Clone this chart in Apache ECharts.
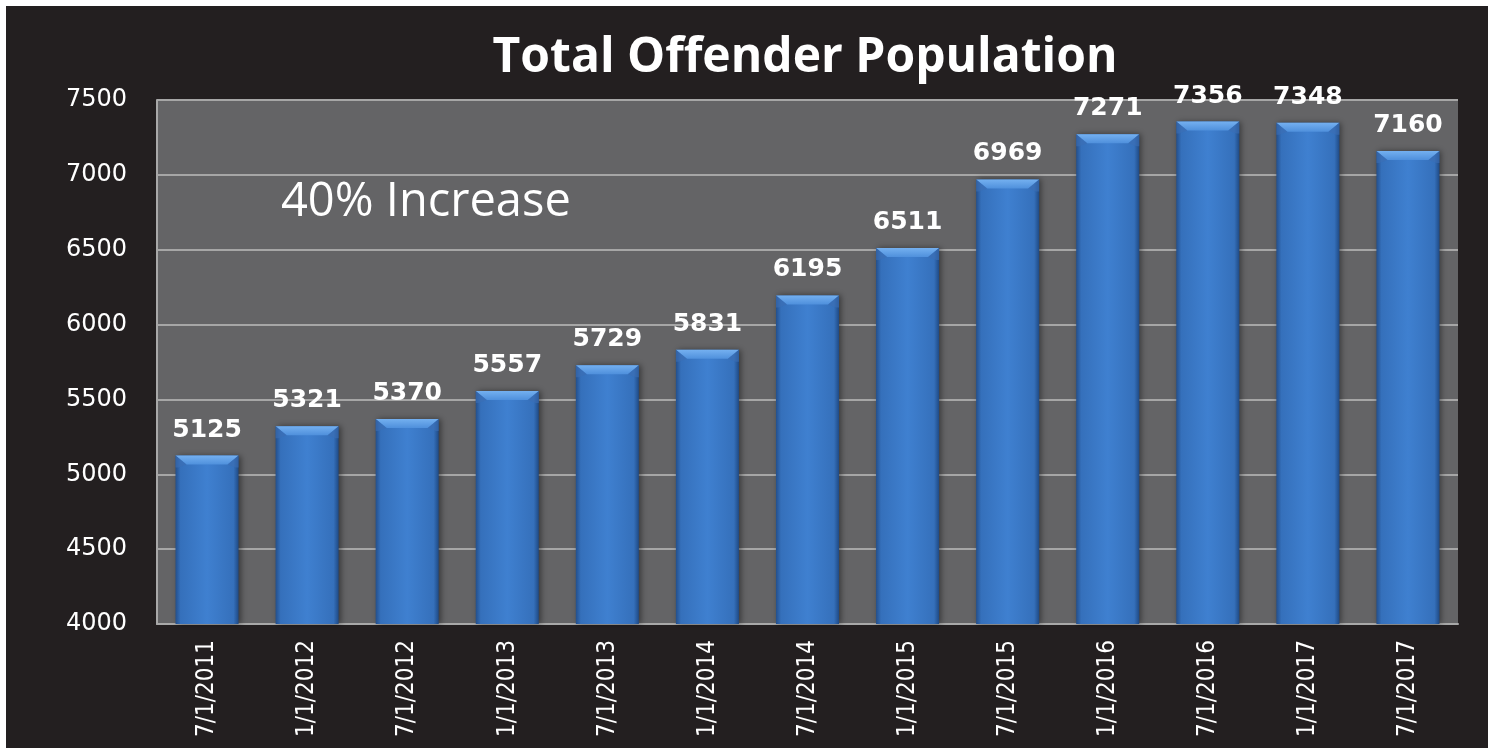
<!DOCTYPE html>
<html>
<head>
<meta charset="utf-8">
<script src="https://cdn.jsdelivr.net/npm/echarts@6/dist/echarts.min.js"></script>
<style>
html,body{margin:0;padding:0;background:#ffffff;width:1494px;height:748px;overflow:hidden;}
#chart{position:absolute;left:6px;top:6px;width:1482px;height:742px;}
</style>
</head>
<body>
<div id="chart"></div>
<script>
const categories = ['7/1/2011','1/1/2012','7/1/2012','1/1/2013','7/1/2013','1/1/2014','7/1/2014','1/1/2015','7/1/2015','1/1/2016','7/1/2016','1/1/2017','7/1/2017'];
const population = [5125, 5321, 5370, 5557, 5729, 5831, 6195, 6511, 6969, 7271, 7356, 7348, 7160];
const yTicks = [4000, 4500, 5000, 5500, 6000, 6500, 7000, 7500];
const chartTitle = 'Total Offender Population';
const noteText = '40% Increase';

const BAR_W = 0.63;
const chart = echarts.init(document.getElementById('chart'));

const barFill = new echarts.graphic.LinearGradient(0, 0, 1, 0, [
  {offset: 0, color: '#234f8c'},
  {offset: 0.08, color: '#3570bb'},
  {offset: 0.5, color: '#3f80d0'},
  {offset: 0.92, color: '#3570bb'},
  {offset: 1, color: '#1f4a85'}
]);

option = {
  backgroundColor: '#231f20',
  animation: false,
  title: {
    text: chartTitle,
    left: 794, top: 23,
    textAlign: 'center',
    textStyle: {color: '#ffffff', fontFamily: 'Open Sans', fontWeight: 'bold', fontSize: 48}
  },
  grid: {left: 151, right: 30, top: 94, bottom: 124, show: true, backgroundColor: '#646466', borderWidth: 0},
  xAxis: {
    type: 'category',
    data: categories,
    axisLine: {show: true, lineStyle: {color: '#a8a8a8', width: 2}},
    axisTick: {show: false},
    axisLabel: {rotate: 90, color: '#ffffff', fontFamily: 'Liberation Sans Narrow, DejaVu Sans Condensed, sans-serif', fontSize: 24, margin: 16}
  },
  yAxis: {
    type: 'value',
    min: yTicks[0], max: yTicks[yTicks.length-1], interval: yTicks[1]-yTicks[0],
    axisLine: {show: true, lineStyle: {color: '#a8a8a8', width: 2}},
    axisTick: {show: false},
    splitLine: {show: true, lineStyle: {color: '#a6a6a6', width: 2}},
    axisLabel: {color: '#ffffff', fontFamily: 'DejaVu Sans', fontSize: 24, margin: 30, formatter: v => String(v)}
  },
  graphic: [{
    type: 'text', left: 275, top: 173,
    style: {text: noteText, fill: '#ffffff', font: '47px "Open Sans"'}
  }],
  series: [{
    type: 'bar',
    data: population,
    barWidth: (BAR_W*100)+'%',
    itemStyle: {color: barFill, shadowColor: 'rgba(0,0,0,0.45)', shadowBlur: 6, shadowOffsetX: 2},
    label: {show: true, position: 'top', distance: 13, color: '#ffffff', fontFamily: 'DejaVu Sans', fontWeight: 'bold', fontSize: 25}
  }, {
    type: 'custom',
    data: population.map((v, i) => [i, v]),
    z: 5,
    renderItem: function (params, api) {
      const p = api.coord([api.value(0), api.value(1)]);
      const w = api.size([1, 0])[0] * BAR_W;
      const x0 = p[0] - w/2, x1 = p[0] + w/2, y = p[1], h = 9, inset = 11;
      return {
        type: 'group',
        children: [{
          type: 'polygon',
          shape: {points: [[x0, y], [x1, y], [x1 - inset, y + h], [x0 + inset, y + h]]},
          style: {fill: new echarts.graphic.LinearGradient(0, 0, 0, 1, [
            {offset: 0, color: '#74b0f0'}, {offset: 1, color: '#4f90dc'}])}
        }, {
          type: 'polygon',
          shape: {points: [[x0, y], [x0 + inset, y + h], [x0 + 3, y + h + 3], [x0, y + h + 3]]},
          style: {fill: 'rgba(60,110,180,0.6)'}
        }, {
          type: 'polygon',
          shape: {points: [[x1, y], [x1 - inset, y + h], [x1 - 3, y + h + 3], [x1, y + h + 3]]},
          style: {fill: 'rgba(60,110,180,0.6)'}
        }]
      };
    }
  }]
};
chart.setOption(option);
</script>
</body>
</html>
